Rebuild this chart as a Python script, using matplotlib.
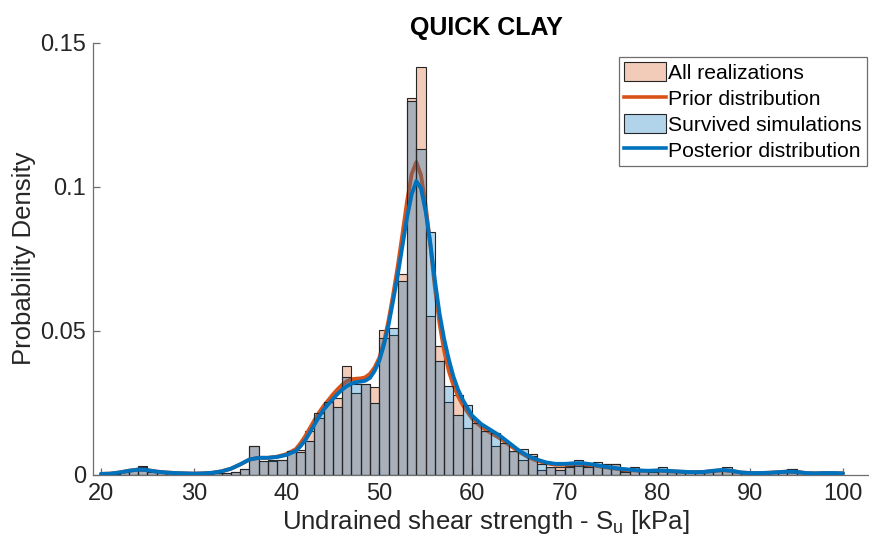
import numpy as np
import matplotlib
matplotlib.use("Agg")
import matplotlib.pyplot as plt
from matplotlib.patches import Patch
from matplotlib.lines import Line2D

plt.rcParams['font.family'] = ['Liberation Sans', 'DejaVu Sans']
plt.rcParams['mathtext.fontset'] = 'custom'
plt.rcParams['mathtext.rm'] = 'Liberation Sans'
plt.rcParams['mathtext.it'] = 'Liberation Sans:italic'

# ---------------- data ----------------
bin_left = list(range(20, 100))          # histogram bins of width 1 kPa
bin_width = 1.0

all_realizations = [
    0.0003, 0.0003, 0.0008, 0.0017, 0.0025, 0.0010, 0.0008, 0.0005, 0.0003, 0.0003,   # 20-29
    0.0003, 0.0005, 0.0005, 0.0006, 0.0009, 0.0018, 0.0098, 0.0046, 0.0048, 0.0052,   # 30-39
    0.0080, 0.0085, 0.0151, 0.0198, 0.0251, 0.0267, 0.0377, 0.0285, 0.0316, 0.0304,   # 40-49
    0.0503, 0.0485, 0.0698, 0.1310, 0.1415, 0.0550, 0.0447, 0.0252, 0.0276, 0.0162,   # 50-59
    0.0180, 0.0150, 0.0098, 0.0108, 0.0082, 0.0052, 0.0073, 0.0017, 0.0026, 0.0026,   # 60-69
    0.0028, 0.0030, 0.0030, 0.0030, 0.0035, 0.0036, 0.0013, 0.0017, 0.0012, 0.0010,   # 70-79
    0.0020, 0.0010, 0.0017, 0.0008, 0.0005, 0.0008, 0.0012, 0.0018, 0.0008, 0.0005,   # 80-89
    0.0005, 0.0008, 0.0008, 0.0010, 0.0019, 0.0010, 0.0003, 0.0005, 0.0008, 0.0005,   # 90-99
]
survived = [
    0.0003, 0.0003, 0.0008, 0.0017, 0.0029, 0.0010, 0.0008, 0.0005, 0.0003, 0.0003,
    0.0003, 0.0005, 0.0005, 0.0006, 0.0009, 0.0018, 0.0098, 0.0046, 0.0052, 0.0052,
    0.0080, 0.0077, 0.0115, 0.0215, 0.0251, 0.0233, 0.0339, 0.0314, 0.0316, 0.0250,
    0.0476, 0.0510, 0.0673, 0.1300, 0.1132, 0.0842, 0.0394, 0.0307, 0.0206, 0.0243,
    0.0180, 0.0150, 0.0144, 0.0108, 0.0082, 0.0087, 0.0065, 0.0038, 0.0026, 0.0017,
    0.0025, 0.0052, 0.0025, 0.0044, 0.0035, 0.0036, 0.0008, 0.0026, 0.0012, 0.0010,
    0.0026, 0.0010, 0.0017, 0.0008, 0.0005, 0.0008, 0.0012, 0.0026, 0.0008, 0.0005,
    0.0005, 0.0008, 0.0008, 0.0010, 0.0019, 0.0010, 0.0003, 0.0005, 0.0008, 0.0005,
]

curve_x = ([20, 21, 22, 23, 24, 25, 26, 27, 28, 29, 30, 31, 32, 33, 34, 35, 36, 37, 38, 39, 40]
           + [41.0, 41.5, 42.0, 42.5, 43.0, 43.5, 44.0, 44.5, 45.0, 45.5, 46.0, 46.5, 47.0, 47.5,
              48.0, 48.5, 49.0, 49.5, 50.0, 50.5, 51.0, 51.5, 52.0, 52.5, 53.0, 53.5, 54.0, 54.5,
              55.0, 55.5, 56.0, 56.5, 57.0, 57.5, 58.0, 58.5, 59.0, 59.5, 60.0, 60.5, 61.0, 61.5, 62.0]
           + list(range(63, 101)))

prior_pdf = ([0.0002, 0.0003, 0.0007, 0.0013, 0.0017, 0.0015, 0.0010, 0.0007, 0.0005, 0.0004,
              0.0003, 0.0004, 0.0006, 0.0011, 0.0020, 0.0035, 0.0052, 0.0058, 0.0058, 0.0062, 0.0071]
             + [0.0088, 0.0108, 0.0132, 0.0160, 0.0188, 0.0215, 0.0238, 0.0258, 0.0278, 0.0296,
                0.0312, 0.0324, 0.0331, 0.0333, 0.0334, 0.0338, 0.0350, 0.0372, 0.0405, 0.0460,
                0.0535, 0.0625, 0.0725, 0.0835, 0.0950, 0.1045, 0.1086, 0.1040, 0.0935, 0.0800,
                0.0650, 0.0525, 0.0430, 0.0360, 0.0310, 0.0272, 0.0242, 0.0218, 0.0195, 0.0180,
                0.0166, 0.0155, 0.0145]
             + [0.0126, 0.0103, 0.0080, 0.0061, 0.0048, 0.0039, 0.0034, 0.0034, 0.0036, 0.0036,
                0.0032, 0.0027, 0.0022, 0.0018, 0.0015, 0.0013, 0.0012, 0.0013, 0.0012, 0.0010,
                0.0008, 0.0008, 0.0009, 0.0012, 0.0015, 0.0012, 0.0007, 0.0005, 0.0005, 0.0006,
                0.0008, 0.0010, 0.0009, 0.0005, 0.0004, 0.0005, 0.0005, 0.0004])

posterior_pdf = ([0.0002, 0.0003, 0.0007, 0.0013, 0.0017, 0.0015, 0.0010, 0.0007, 0.0005, 0.0004,
                  0.0003, 0.0004, 0.0006, 0.0011, 0.0020, 0.0035, 0.0052, 0.0058, 0.0058, 0.0061, 0.0068]
                 + [0.0082, 0.0098, 0.0118, 0.0145, 0.0173, 0.0200, 0.0225, 0.0244, 0.0262, 0.0280,
                    0.0295, 0.0307, 0.0316, 0.0321, 0.0323, 0.0326, 0.0336, 0.0360, 0.0395, 0.0450,
                    0.0520, 0.0605, 0.0695, 0.0795, 0.0894, 0.0975, 0.1020, 0.0995, 0.0915, 0.0805,
                    0.0675, 0.0559, 0.0470, 0.0400, 0.0340, 0.0295, 0.0260, 0.0232, 0.0205, 0.0190,
                    0.0175, 0.0165, 0.0155]
                 + [0.0135, 0.0110, 0.0085, 0.0065, 0.0052, 0.0042, 0.0037, 0.0037, 0.0039, 0.0039,
                    0.0035, 0.0029, 0.0024, 0.0020, 0.0017, 0.0014, 0.0013, 0.0014, 0.0013, 0.0011,
                    0.0009, 0.0008, 0.0009, 0.0013, 0.0016, 0.0013, 0.0007, 0.0005, 0.0005, 0.0006,
                    0.0008, 0.0010, 0.0009, 0.0005, 0.0004, 0.0005, 0.0005, 0.0004])

xticks = [20, 30, 40, 50, 60, 70, 80, 90, 100]
yticks = [0, 0.05, 0.1, 0.15]
ytick_labels = ['0', '0.05', '0.1', '0.15']

title = 'QUICK CLAY'
xlabel = r'Undrained shear strength - S$_{\mathrm{u}}$ [kPa]'
ylabel = 'Probability Density'
legend_labels = ['All realizations', 'Prior distribution',
                 'Survived simulations', 'Posterior distribution']

# ---------------- style ----------------
c_orange = '#D95319'
c_blue = '#0072BD'
face_alpha = 0.3
edge_col = (0.15, 0.15, 0.15)
axis_col = '#6e6e6e'
text_col = '#262626'

fig = plt.figure(figsize=(8.7, 5.41), dpi=100)
W, H = 870, 541
ax = fig.add_axes([93 / W, 1 - 474.5 / H, (879 - 93) / W, (474.5 - 43) / H])

ax.bar(bin_left, all_realizations, width=bin_width, align='edge',
       facecolor=(*matplotlib.colors.to_rgb(c_orange), face_alpha),
       edgecolor=edge_col, linewidth=0.8, zorder=1)
ax.plot(curve_x, prior_pdf, color=c_orange, lw=2.8, zorder=2,
        solid_joinstyle='round', solid_capstyle='round')
ax.bar(bin_left, survived, width=bin_width, align='edge',
       facecolor=(*matplotlib.colors.to_rgb(c_blue), face_alpha),
       edgecolor=edge_col, linewidth=0.8, zorder=3)
ax.plot(curve_x, posterior_pdf, color=c_blue, lw=2.8, zorder=4,
        solid_joinstyle='round', solid_capstyle='round')

x_left = 20 - 8 / 9.275
x_right = 20 + (879 - 101) / 9.275
ax.set_xlim(x_left, x_right)
ax.set_ylim(0, 0.15)
ax.set_xticks(xticks)
ax.set_xticklabels([str(t) for t in xticks])
ax.set_yticks(yticks)
ax.set_yticklabels(ytick_labels)

for s in ['top', 'right']:
    ax.spines[s].set_visible(False)
for s in ['left', 'bottom']:
    ax.spines[s].set_color(axis_col)
    ax.spines[s].set_linewidth(0.9)
ax.tick_params(axis='both', direction='in', length=5, width=0.9, color=axis_col,
               labelsize=17, labelcolor=text_col)
ax.tick_params(axis='x', pad=6)
ax.tick_params(axis='y', pad=5)

ax.set_title(title, fontsize=18, fontweight='bold', color='black', pad=6)
ax.set_xlabel(xlabel, fontsize=18.5, color=text_col, labelpad=2)
ax.set_ylabel(ylabel, fontsize=18.5, color=text_col, labelpad=3)

handles = [
    Patch(facecolor=(*matplotlib.colors.to_rgb(c_orange), face_alpha), edgecolor=edge_col, linewidth=0.8),
    Line2D([0], [0], color=c_orange, lw=2.6),
    Patch(facecolor=(*matplotlib.colors.to_rgb(c_blue), face_alpha), edgecolor=edge_col, linewidth=0.8),
    Line2D([0], [0], color=c_blue, lw=2.6),
]
leg = fig.legend(handles, legend_labels, loc='upper right',
                 bbox_to_anchor=(867 / W, 1 - 57 / H), fontsize=15.2,
                 frameon=True, fancybox=False, edgecolor='#6e6e6e', framealpha=1,
                 handlelength=2.0, handleheight=1.0, handletextpad=0.08,
                 labelspacing=0.25, borderpad=0.25, borderaxespad=0.0)
leg.get_frame().set_linewidth(0.9)
for t in leg.get_texts():
    t.set_color('black')

fig.savefig('out.png', dpi=100)
